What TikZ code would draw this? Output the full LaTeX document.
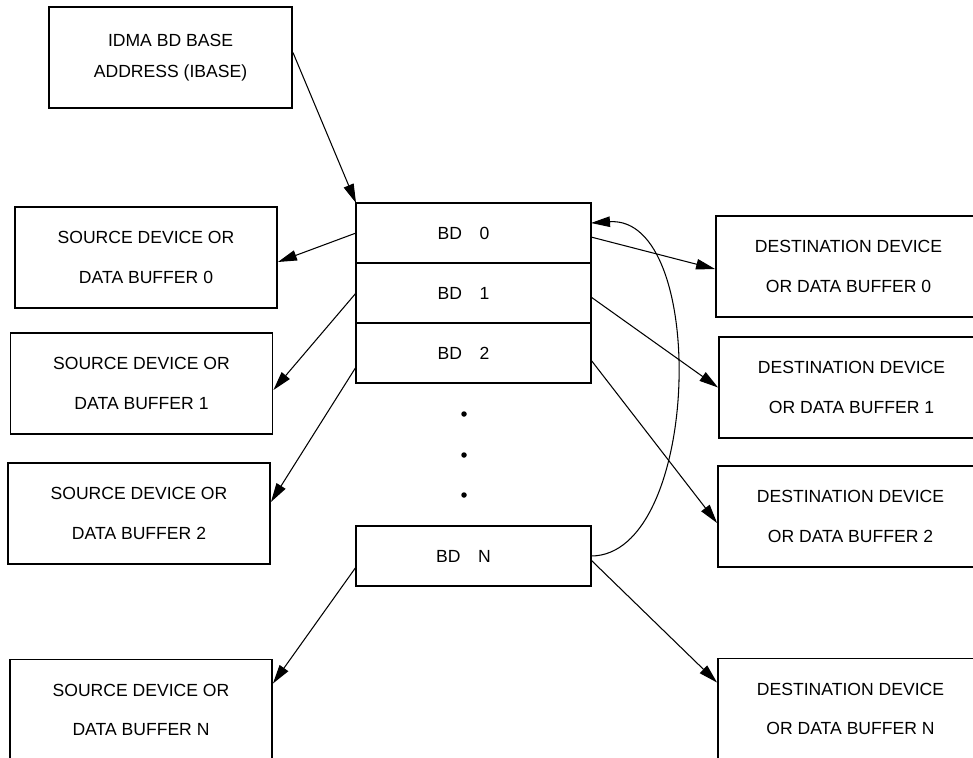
\documentclass[tikz,border=0pt]{standalone}
\usepackage{fontspec}
\setmainfont{Liberation Sans}
\usetikzlibrary{arrows.meta,positioning}
\tikzset{
  devbox/.style ={rectangle, draw=black, line width=1.1pt, inner sep=0pt,
                  minimum width=5.24cm, minimum height=2.02cm, align=center,
                  font=\fontsize{10pt}{22.7pt}\selectfont},
  dstbox/.style ={devbox, minimum width=5.3cm},
  basebox/.style={devbox, minimum width=4.86cm, font=\fontsize{10pt}{18pt}\selectfont},
  bdrow/.style  ={rectangle, draw=black, line width=1.1pt, inner sep=0pt, outer sep=0pt,
                  minimum width=4.7cm, minimum height=1.2cm, font=\fontsize{10pt}{12pt}\selectfont},
  ptr/.style    ={-{Triangle[length=3.8mm, width=2.1mm]}, line width=0.6pt, black},
}

\begin{document}
\begin{tikzpicture}[x=0.02cm, y=-0.02cm]
  \useasboundingbox (0,0) rectangle (973,757);
  \clip (0,0) rectangle (973,757);
  % base pointer
  \node[basebox] (ibase) at (170.5,57.5) {IDMA BD BASE\\ADDRESS (IBASE)};
  % descriptor table
  \node[bdrow] (bd0) at (473.5,233) {BD\quad 0\hspace*{0.4cm}};
  \node[bdrow, below=0pt of bd0] (bd1) {BD\quad 1\hspace*{0.4cm}};
  \node[bdrow, below=0pt of bd1] (bd2) {BD\quad 2\hspace*{0.4cm}};
  \node[bdrow] (bdN) at (473.5,556) {BD\quad N\hspace*{0.4cm}};
  \foreach \y in {414,455,495} {\fill (464,\y) circle (0.055cm);}
  % sources
  \node[devbox] (src0) at (146,257.5) {SOURCE DEVICE OR\\DATA BUFFER 0};
  \node[devbox] (src1) at (141.5,383.5) {SOURCE DEVICE OR\\DATA BUFFER 1};
  \node[devbox] (src2) at (139,513.5) {SOURCE DEVICE OR\\DATA BUFFER 2};
  \node[devbox] (srcN) at (141,710) {SOURCE DEVICE OR\\DATA BUFFER N};
  % destinations
  \node[dstbox] (dst0) at (848.5,266.5) {DESTINATION DEVICE\\OR DATA BUFFER 0};
  \node[dstbox] (dst1) at (851.5,387.5) {DESTINATION DEVICE\\OR DATA BUFFER 1};
  \node[dstbox] (dst2) at (850.5,516.5) {DESTINATION DEVICE\\OR DATA BUFFER 2};
  \node[dstbox] (dstN) at (850.5,709) {DESTINATION DEVICE\\OR DATA BUFFER N};

  \draw[ptr] ([yshift=0.1cm]ibase.east) -- (bd0.north west);
  \draw[ptr] (bd0.west) -- ([yshift=-0.09cm]src0.east);
  \draw[ptr] (bd1.west) -- ([yshift=-0.13cm]src1.east);
  \draw[ptr] ([yshift=-0.28cm]bd2.west) -- ([yshift=0.23cm]src2.east);
  \draw[ptr] ([yshift=-0.22cm]bdN.west) -- ([yshift=-0.5cm]srcN.north east);
  \draw[ptr] ([yshift=-0.08cm]bd0.east) -- ([yshift=-0.05cm]dst0.west);
  \draw[ptr] ([yshift=-0.08cm]bd1.east) -- (dst1.west);
  \draw[ptr] ([yshift=-0.14cm]bd2.east) -- ([yshift=-0.13cm]dst2.west);
  \draw[ptr] ([yshift=-0.08cm]bdN.east) -- ([yshift=-0.5cm]dstN.north west);
  \draw[ptr] (bdN.east) .. controls +(110,0) and +(118,-8) .. ([yshift=0.2cm]bd0.east);
\end{tikzpicture}
\end{document}
